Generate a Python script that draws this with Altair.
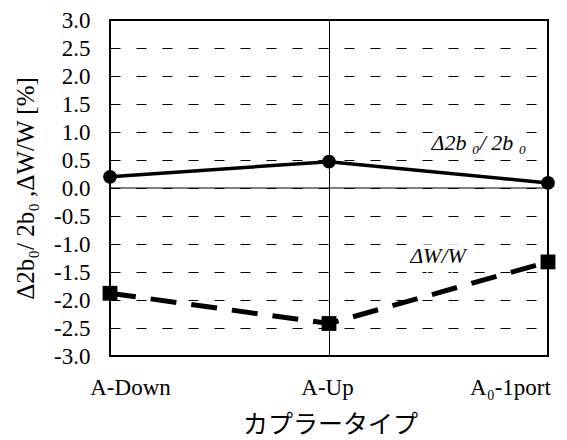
import altair as alt
import pandas as pd

categories = ["A-Down", "A-Up", "A₀-1port"]
b_ratio = [0.20, 0.47, 0.09]
w_ratio = [-1.88, -2.42, -1.32]
y_ticks = [-3.0, -2.5, -2.0, -1.5, -1.0, -0.5, 0.0, 0.5, 1.0, 1.5, 2.0, 2.5, 3.0]
ann_text = ["Δ2b ₀/ 2b ₀", "ΔW/W"]
ann_cat = ["A₀-1port", "A₀-1port"]
ann_val = [0.80, -1.22]

df_b = pd.DataFrame({"cat": categories, "val": b_ratio})
df_w = pd.DataFrame({"cat": categories, "val": w_ratio})
df_zero = pd.DataFrame({"val": [0.0]})
df_ann_b = pd.DataFrame({"cat": ann_cat[:1], "val": ann_val[:1], "t": ann_text[:1]})
df_ann_w = pd.DataFrame({"cat": ann_cat[1:], "val": ann_val[1:], "t": ann_text[1:]})

SERIF = "Liberation Serif"

x_scale = alt.Scale(type="point", padding=0, domain=categories)
y_scale = alt.Scale(domain=[-3, 3], nice=False, zero=False)

x_axis = alt.Axis(
    title="カプラータイプ",
    titleFont="Noto Sans CJK JP",
    titleFontSize=25,
    titleFontWeight="normal",
    titleColor="black",
    titleX=220,
    titleY=56,
    titleBaseline="top",
    labelFont=SERIF,
    labelFontSize=23,
    labelColor="black",
    labelPadding=20,
    labelAngle=0,
    labelOverlap=False,
    labelOffset={
        "condition": [
            {"test": "datum.value === 'A-Down'", "value": 20},
            {"test": "datum.value === 'A-Up'", "value": -2},
        ],
        "value": -38,
    },
    ticks=False,
    tickSize=0,
    domain=False,
    grid=True,
    gridColor="black",
    gridWidth=1,
    gridOpacity=1,
)

y_axis = alt.Axis(
    title="Δ2b₀/ 2b₀ ,ΔW/W [%]",
    titleFont=SERIF,
    titleFontSize=25,
    titleFontWeight="normal",
    titleColor="black",
    titleAngle=-90,
    titleX=-85,
    titleY=168,
    titleAlign="center",
    titleBaseline="middle",
    values=y_ticks,
    tickCount=len(y_ticks) + 2,
    labelExpr="replace(format(datum.value, '.1f'), '−', '-')",
    labelFont=SERIF,
    labelFontSize=23,
    labelColor="black",
    labelPadding=20,
    labelOverlap=False,
    labelBound=False,
    labelFlush=False,
    ticks=False,
    tickSize=0,
    domain=False,
    grid=True,
    gridColor="black",
    gridWidth=1,
    gridOpacity=1,
    gridDash=[10, 16],
)

X = alt.X("cat:N", scale=x_scale, axis=x_axis, sort=categories)
Y = alt.Y("val:Q", scale=y_scale, axis=y_axis)

line_b = alt.Chart(df_b).mark_line(color="black", strokeWidth=3.5).encode(x=X, y=Y)
pts_b = alt.Chart(df_b).mark_point(
    shape="circle", filled=True, color="black", size=190, opacity=1
).encode(x=X, y=Y)
line_w = alt.Chart(df_w).mark_line(color="black", strokeWidth=5, strokeDash=[26, 15]).encode(x=X, y=Y)
pts_w = alt.Chart(df_w).mark_point(
    shape="square", filled=True, color="black", size=220, opacity=1
).encode(x=X, y=Y)
zero_rule = alt.Chart(df_zero).mark_rule(color="black", strokeWidth=1).encode(y=Y)


def ann(df, dx):
    halo = alt.Chart(df).mark_text(
        font=SERIF, fontSize=22, fontStyle="italic", dx=dx, align="center", baseline="middle",
        stroke="white", strokeWidth=9, color="white",
    ).encode(x=X, y=Y, text="t:N")
    txt = alt.Chart(df).mark_text(
        font=SERIF, fontSize=22, fontStyle="italic", dx=dx, align="center", baseline="middle",
        color="black",
    ).encode(x=X, y=Y, text="t:N")
    return halo + txt


chart = alt.layer(
    line_b, zero_rule, ann(df_ann_b, -69), ann(df_ann_w, -110),
    pts_b, line_w, pts_w,
).properties(
    width=438,
    height=336,
    autosize=alt.AutoSizeParams(type="none"),
    padding={"left": 110, "top": 20, "right": 19, "bottom": 84},
    background="white",
).configure_view(
    stroke="black",
    strokeWidth=2,
)

chart.save("out.html", embed_options={"renderer": "svg", "actions": False})
